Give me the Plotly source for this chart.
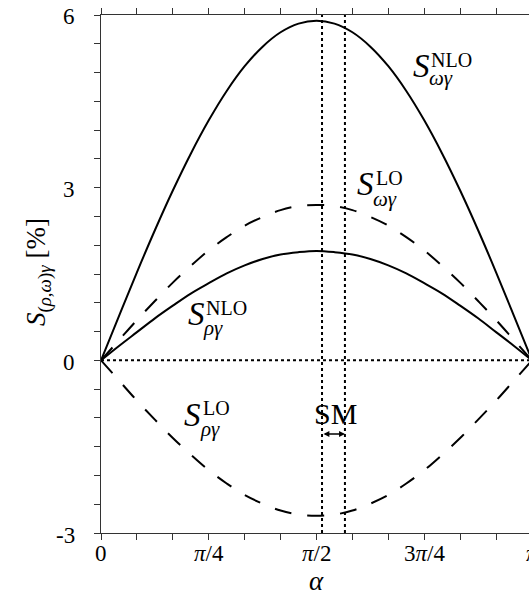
import math
import plotly.graph_objects as go

# ---- data ----
alpha_deg = [0, 7.5, 15, 22.5, 30, 37.5, 45, 52.5, 60, 67.5, 75, 82.5, 90,
             97.5, 105, 112.5, 120, 127.5, 135, 142.5, 150, 157.5, 165, 172.5, 180]
S_omega_NLO = [0, 0.77, 1.53, 2.26, 2.95, 3.59, 4.17, 4.68, 5.11, 5.45, 5.70, 5.85, 5.90,
               5.85, 5.70, 5.45, 5.11, 4.68, 4.17, 3.59, 2.95, 2.26, 1.53, 0.77, 0]
S_omega_LO = [0, 0.35, 0.70, 1.03, 1.35, 1.64, 1.91, 2.14, 2.34, 2.49, 2.61, 2.68, 2.70,
              2.68, 2.61, 2.49, 2.34, 2.14, 1.91, 1.64, 1.35, 1.03, 0.70, 0.35, 0]
S_rho_NLO = [0, 0.25, 0.49, 0.73, 0.95, 1.16, 1.34, 1.51, 1.65, 1.76, 1.84, 1.88, 1.90,
             1.88, 1.84, 1.76, 1.65, 1.51, 1.34, 1.16, 0.95, 0.73, 0.49, 0.25, 0]
S_rho_LO = [0, -0.35, -0.70, -1.03, -1.35, -1.64, -1.91, -2.14, -2.34, -2.49, -2.61, -2.68, -2.70,
            -2.68, -2.61, -2.49, -2.34, -2.14, -1.91, -1.64, -1.35, -1.03, -0.70, -0.35, 0]
SM_alpha = [1.611, 1.778]          # SM band boundaries (rad)
x_tick_vals_frac = [0, 1/12, 2/12, 3/12, 4/12, 5/12, 6/12, 7/12, 8/12, 9/12, 10/12, 11/12, 1]
x_label_frac = [0, 1/4, 1/2, 3/4, 1]
x_label_text = ["0", "<i>π</i>/4", "<i>π</i>/2", "3<i>π</i>/4", "<i>π</i>"]
y_tick_vals = [-3, -2.5, -2, -1.5, -1, -0.5, 0, 0.5, 1, 1.5, 2, 2.5, 3, 3.5, 4, 4.5, 5, 5.5, 6]
y_label_vals = [-3, 0, 3, 6]
y_label_text = ["-3", "0", "3", "6"]

alpha = [math.radians(a) for a in alpha_deg]
x_tick_vals = [f * math.pi for f in x_tick_vals_frac]

W, H = 529, 594
L, R, T, B = 101, 0, 15, 61
PW, PH = W - L - R, H - T - B
FONT = "Liberation Serif"
XPIX_PI = 431.0                      # pixel length of [0, pi] on the x axis
XMAX = math.pi * PW / XPIX_PI
YMIN, YMAX = -3, 6


def px(xp):
    return (xp - L) / PW


def py(yp):
    return (H - B - yp) / PH


def x_to_paper(v):
    return v / XMAX


def y_to_paper(v):
    return (v - YMIN) / (YMAX - YMIN)


fig = go.Figure()
line_w = 2
fig.add_trace(go.Scatter(x=alpha, y=S_omega_NLO, mode="lines", line=dict(color="black", width=line_w, shape="spline")))
fig.add_trace(go.Scatter(x=alpha, y=S_omega_LO, mode="lines", line=dict(color="black", width=line_w, dash="17px,16px", shape="spline")))
fig.add_trace(go.Scatter(x=alpha, y=S_rho_NLO, mode="lines", line=dict(color="black", width=line_w, shape="spline")))
fig.add_trace(go.Scatter(x=alpha, y=S_rho_LO, mode="lines", line=dict(color="black", width=line_w, dash="17px,16px", shape="spline")))

# zero line and SM band lines
fig.add_trace(go.Scatter(x=[0, math.pi], y=[0, 0], mode="lines", line=dict(color="black", width=2, dash="3px,3px")))
for a in SM_alpha:
    fig.add_trace(go.Scatter(x=[a, a], y=[YMIN, YMAX], mode="lines", line=dict(color="black", width=2, dash="3px,3px")))

ann = []


def label(x, y, text, size, xanchor="center", yanchor="middle", angle=0):
    ann.append(dict(xref="paper", yref="paper", x=px(x), y=py(y), text=text, showarrow=False,
                    xanchor=xanchor, yanchor=yanchor, textangle=angle, borderpad=0,
                    font=dict(family=FONT, size=size, color="black")))


def slabel(sx, sy, sup, sub, supx, supy, subx, suby):
    label(sx, sy, "<i>S</i>", 33)
    label(supx, supy, sup, 20, xanchor="left")
    label(subx, suby, sub, 21, xanchor="left")


slabel(421, 66, "NLO", "<i>ωγ</i>", 430, 60, 428, 78)
slabel(365, 184, "LO", "<i>ωγ</i>", 375, 178, 372, 199)
slabel(196, 314, "NLO", "<i>ργ</i>", 205, 308, 202, 328)
slabel(192, 415, "LO", "<i>ργ</i>", 202, 408, 199, 429)

label(335, 413, "SM", 30)
label(316, 581, "<i>α</i>", 27)
label(38, 272, "<i>S</i><sub>(<i>ρ</i>,<i>ω</i>)<i>γ</i></sub> [%]", 27, angle=-90)

# tick labels placed at the axis tick values (paper coords derived from the axis ranges)
for f, t in zip(x_label_frac, x_label_text):
    ann.append(dict(xref="paper", yref="paper", x=x_to_paper(f * math.pi), y=py(553), text=t,
                    showarrow=False, xanchor="center", yanchor="middle", borderpad=0,
                    font=dict(family=FONT, size=23, color="black")))
for v, t in zip(y_label_vals, y_label_text):
    ann.append(dict(xref="paper", yref="paper", x=px(76), y=y_to_paper(v) - 2 / PH, text=t,
                    showarrow=False, xanchor="right", yanchor="middle", borderpad=0,
                    font=dict(family=FONT, size=23, color="black")))

ann.append(dict(xref="x", yref="y", axref="x", ayref="y", x=SM_alpha[1], y=-1.28,
                ax=SM_alpha[0], ay=-1.28, text="", showarrow=True, arrowhead=2,
                arrowside="end+start", arrowsize=0.9, arrowwidth=1.3, arrowcolor="black",
                standoff=0, startstandoff=0))

fig.update_layout(
    width=W, height=H, margin=dict(l=L, r=R, t=T, b=B, pad=0),
    paper_bgcolor="white", plot_bgcolor="white", showlegend=False,
    annotations=ann,
    font=dict(family=FONT, size=23, color="black"),
    xaxis=dict(range=[0, XMAX], tickmode="array", tickvals=x_tick_vals, showticklabels=False,
               ticks="outside", ticklen=6, tickwidth=1.3, tickcolor="#333",
               showline=True, linecolor="#333", linewidth=1.3, mirror="ticks",
               showgrid=False, zeroline=False),
    yaxis=dict(range=[YMIN, YMAX], tickmode="array", tickvals=y_tick_vals, showticklabels=False,
               ticks="outside", ticklen=6, tickwidth=1.3, tickcolor="#333",
               showline=True, linecolor="#333", linewidth=1.3, mirror=False,
               showgrid=False, zeroline=False),
)

fig.write_html("out.html", config={"displayModeBar": False},
               post_script="document.body.style.margin='0';document.body.style.overflow='hidden';")
